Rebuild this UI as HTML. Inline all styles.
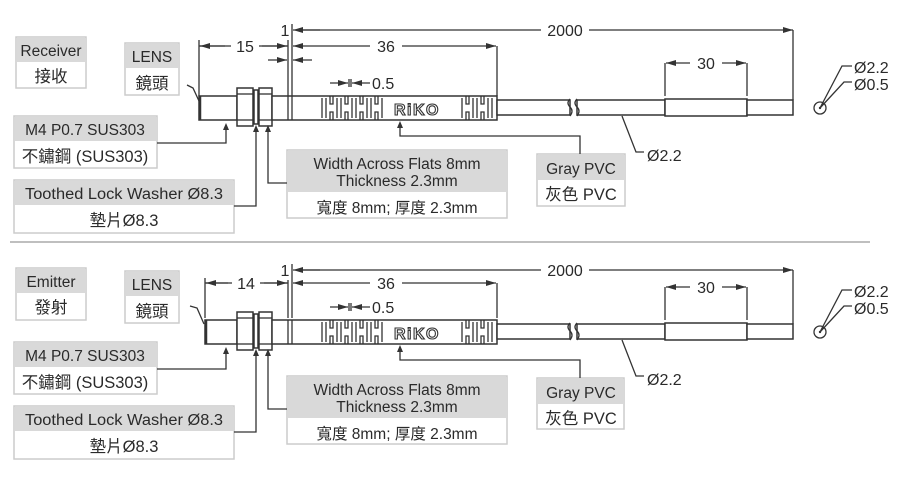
<!DOCTYPE html>
<html><head><meta charset="utf-8"><style>
html,body{margin:0;padding:0;background:#fff;}
svg{display:block;}
text{font-family:"Liberation Sans","Noto Sans CJK TC",sans-serif;fill:#2a2a2a;}
.l{stroke:#333;stroke-width:1.3;fill:none;}
.b{stroke:#333;stroke-width:1.5;fill:#fff;}
.hd{fill:#d9d9d9;}
.bx{fill:#fff;stroke:#ccc;stroke-width:1.5;}
.d{font-size:16px;}
.t{font-size:15.5px;}
.c{font-size:16.5px;}
</style></head><body>
<svg width="900" height="491" viewBox="0 0 900 491" xmlns="http://www.w3.org/2000/svg">
<defs>
<marker id="a" viewBox="0 0 10 6" refX="10" refY="3" markerWidth="10" markerHeight="6" orient="auto" markerUnits="userSpaceOnUse"><path d="M0,0 L10,3 L0,6 z" fill="#333"/></marker>
</defs>

<!-- ================= TOP ================= -->
<g>
<line class="l" x1="300" y1="30" x2="793" y2="30" marker-end="url(#a)"/>
<line class="l" x1="320" y1="30" x2="293" y2="30" marker-end="url(#a)"/>
<rect x="541" y="21" width="48" height="16" fill="#fff"/>
<text x="565" y="36" class="d" text-anchor="middle">2000</text>
<text x="285" y="36" class="d" text-anchor="middle">1</text>
<line class="l" x1="793" y1="30" x2="793" y2="100"/>
<line class="l" x1="292" y1="24" x2="292" y2="96"/>
<line class="l" x1="288" y1="40" x2="288" y2="96"/>
<line class="l" x1="320" y1="46" x2="293" y2="46" marker-end="url(#a)"/>
<line class="l" x1="470" y1="46" x2="496" y2="46" marker-end="url(#a)"/>
<line class="l" x1="320" y1="46" x2="470" y2="46"/>
<rect x="370" y="37" width="32" height="16" fill="#fff"/>
<text x="386" y="52" class="d" text-anchor="middle">36</text>
<line class="l" x1="497" y1="46" x2="497" y2="96"/>
<line class="l" x1="199" y1="40" x2="199" y2="96"/>
<line class="l" x1="199" y1="46" x2="288" y2="46"/>
<line class="l" x1="225" y1="46" x2="200" y2="46" marker-end="url(#a)"/>
<line class="l" x1="262" y1="46" x2="287" y2="46" marker-end="url(#a)"/>
<rect x="231" y="37" width="28" height="16" fill="#fff"/>
<text x="245" y="52" class="d" text-anchor="middle">15</text>
<line class="l" x1="268" y1="60" x2="287" y2="60" marker-end="url(#a)"/>
<line class="l" x1="312" y1="60" x2="293" y2="60" marker-end="url(#a)"/>
</g>
<g>
<line class="l" x1="330" y1="83" x2="348" y2="83" marker-end="url(#a)"/>
<line class="l" x1="370" y1="83" x2="352" y2="83" marker-end="url(#a)"/>
<line class="l" x1="349" y1="79" x2="349" y2="87"/><line class="l" x1="351" y1="79" x2="351" y2="87"/>
<text x="372" y="89" class="d">0.5</text>
<rect class="b" x="199" y="96" width="38" height="24"/>
<line x1="200" y1="96" x2="200" y2="120" stroke="#333" stroke-width="2.5"/>
<rect class="b" x="237" y="88" width="16" height="38"/>
<line class="l" x1="237" y1="94" x2="253" y2="94"/><line class="l" x1="237" y1="120" x2="253" y2="120"/>
<rect class="b" x="254" y="90" width="4" height="34"/>
<rect class="b" x="259" y="88" width="13" height="38"/>
<line class="l" x1="259" y1="94" x2="272" y2="94"/><line class="l" x1="259" y1="120" x2="272" y2="120"/>
<rect class="b" x="272" y="96" width="225" height="24"/>
<line class="l" x1="288" y1="96" x2="288" y2="120"/><line class="l" x1="292" y1="96" x2="292" y2="120"/>
<g class="l">
<path d="M322,98 v20 M326,98 v20 M330,96 v8 h3 v-8 M330,120 v-8 h3 v8 M337,98 v20 M341,98 v20 M345,96 v8 h3 v-8 M345,120 v-8 h3 v8 M352,98 v20 M356,98 v20 M360,96 v8 h3 v-8 M360,120 v-8 h3 v8 M367,98 v20 M371,98 v20 M375,96 v8 h3 v-8 M375,120 v-8 h3 v8 M382,98 v20"/>
<path d="M462,98 v20 M466,96 v8 h3 v-8 M466,120 v-8 h3 v8 M473,98 v20 M477,98 v20 M481,96 v8 h3 v-8 M481,120 v-8 h3 v8 M488,98 v20 M492,98 v20"/>
</g>
<text x="394" y="115" font-size="16" font-weight="bold" letter-spacing="1.5" style="fill:#fff;stroke:#333;stroke-width:1.1">RiKO</text>
<rect class="b" x="497" y="100" width="73" height="15"/>
<rect class="b" x="577" y="100" width="88" height="15"/>
<rect x="571" y="99" width="5" height="18" fill="#fff"/>
<path d="M570,99 q-4,4 0,8 q4,4 0,9 M577,99 q-4,4 0,8 q4,4 0,9" class="l"/>
<rect class="b" x="665" y="99" width="82" height="17"/>
<rect class="b" x="747" y="100" width="46" height="15"/>
<line class="l" x1="665" y1="63" x2="665" y2="96"/><line class="l" x1="747" y1="63" x2="747" y2="96"/>
<line class="l" x1="690" y1="63" x2="666" y2="63" marker-end="url(#a)"/>
<line class="l" x1="722" y1="63" x2="746" y2="63" marker-end="url(#a)"/>
<text x="706" y="69" class="d" text-anchor="middle">30</text>
<circle cx="820" cy="108" r="6" class="l"/><circle cx="820" cy="108" r="1.2" fill="#333"/>
<path class="l" d="M820,108 L842,66 H852 M820,108 L844,82 H852"/>
<text x="854" y="73" class="d">Ø2.2</text>
<text x="854" y="90" class="d">Ø0.5</text>
<path class="l" d="M622,116 L636,152 H644"/>
<text x="647" y="161" class="d">Ø2.2</text>
<path class="l" d="M187,85 L193,88 L199,101"/>
</g>
<g>
<rect class="bx" x="16" y="37" width="70" height="51"/><rect class="hd" x="17" y="38" width="68" height="24"/>
<text x="51" y="56" class="t" text-anchor="middle">Receiver</text>
<text x="51" y="82" class="c" text-anchor="middle">接收</text>
<rect class="bx" x="125" y="43" width="54" height="52"/><rect class="hd" x="126" y="44" width="52" height="24"/>
<text x="152" y="62" class="t" text-anchor="middle">LENS</text>
<text x="152" y="89" class="c" text-anchor="middle">鏡頭</text>
<rect class="bx" x="14" y="116" width="143" height="52"/><rect class="hd" x="15" y="117" width="141" height="24"/>
<text x="85" y="135" class="t" text-anchor="middle">M4 P0.7 SUS303</text>
<text x="85" y="162" class="c" text-anchor="middle">不鏽鋼 (SUS303)</text>
<path class="l" d="M157,143 H226 V126"/><path d="M223,130 L226,123 L229,130z" fill="#333"/>
<rect class="bx" x="14" y="180" width="220" height="53"/><rect class="hd" x="15" y="181" width="218" height="24"/>
<text x="124" y="199" class="t" text-anchor="middle" textLength="198" lengthAdjust="spacingAndGlyphs">Toothed Lock Washer Ø8.3</text>
<text x="124" y="226" class="c" text-anchor="middle">墊片Ø8.3</text>
<path class="l" d="M234,206 H256 V128"/><path d="M253,132 L256,125 L259,132z" fill="#333"/>
<rect class="bx" x="287" y="150" width="220" height="68"/><rect class="hd" x="288" y="151" width="218" height="41"/>
<text x="397" y="169" class="t" text-anchor="middle">Width Across Flats 8mm</text>
<text x="397" y="186" class="t" text-anchor="middle">Thickness 2.3mm</text>
<text x="397" y="213" class="t" text-anchor="middle">寬度 8mm; 厚度 2.3mm</text>
<path class="l" d="M287,183 H268 V128"/><path d="M265,132 L268,125 L271,132z" fill="#333"/>
<rect class="bx" x="537" y="154" width="88" height="52"/><rect class="hd" x="538" y="155" width="86" height="25"/>
<text x="581" y="174" class="t" text-anchor="middle">Gray PVC</text>
<text x="581" y="200" class="c" text-anchor="middle">灰色 PVC</text>
<path class="l" d="M580,154 V136 H400 V124"/><path d="M397,128 L400,121 L403,128z" fill="#333"/>
</g>

<line x1="10" y1="242" x2="870" y2="242" stroke="#aaa" stroke-width="1.5"/>

<!-- ================= BOTTOM ================= -->
<g transform="translate(0,240)">
<line class="l" x1="300" y1="30" x2="793" y2="30" marker-end="url(#a)"/>
<line class="l" x1="320" y1="30" x2="293" y2="30" marker-end="url(#a)"/>
<rect x="541" y="21" width="48" height="16" fill="#fff"/>
<text x="565" y="36" class="d" text-anchor="middle">2000</text>
<text x="285" y="36" class="d" text-anchor="middle">1</text>
<line class="l" x1="793" y1="30" x2="793" y2="84"/>
<line class="l" x1="292" y1="24" x2="292" y2="78"/>
<line class="l" x1="288" y1="40" x2="288" y2="78"/>
<line class="l" x1="320" y1="43" x2="293" y2="43" marker-end="url(#a)"/>
<line class="l" x1="470" y1="43" x2="496" y2="43" marker-end="url(#a)"/>
<line class="l" x1="320" y1="43" x2="470" y2="43"/>
<rect x="370" y="34" width="32" height="16" fill="#fff"/>
<text x="386" y="49" class="d" text-anchor="middle">36</text>
<line class="l" x1="497" y1="43" x2="497" y2="78"/>
<line class="l" x1="205" y1="38" x2="205" y2="78"/>
<line class="l" x1="205" y1="43" x2="288" y2="43"/>
<line class="l" x1="228" y1="43" x2="206" y2="43" marker-end="url(#a)"/>
<line class="l" x1="264" y1="43" x2="287" y2="43" marker-end="url(#a)"/>
<rect x="232" y="34" width="28" height="16" fill="#fff"/>
<text x="246" y="49" class="d" text-anchor="middle">14</text>
</g>
<g transform="translate(0,224)">
<line class="l" x1="330" y1="83" x2="348" y2="83" marker-end="url(#a)"/>
<line class="l" x1="370" y1="83" x2="352" y2="83" marker-end="url(#a)"/>
<line class="l" x1="349" y1="79" x2="349" y2="87"/><line class="l" x1="351" y1="79" x2="351" y2="87"/>
<text x="372" y="89" class="d">0.5</text>
<rect class="b" x="205" y="96" width="32" height="24"/>
<line x1="206" y1="96" x2="206" y2="120" stroke="#333" stroke-width="2.5"/>
<rect class="b" x="237" y="88" width="16" height="38"/>
<line class="l" x1="237" y1="94" x2="253" y2="94"/><line class="l" x1="237" y1="120" x2="253" y2="120"/>
<rect class="b" x="254" y="90" width="4" height="34"/>
<rect class="b" x="259" y="88" width="13" height="38"/>
<line class="l" x1="259" y1="94" x2="272" y2="94"/><line class="l" x1="259" y1="120" x2="272" y2="120"/>
<rect class="b" x="272" y="96" width="225" height="24"/>
<line class="l" x1="288" y1="96" x2="288" y2="120"/><line class="l" x1="292" y1="96" x2="292" y2="120"/>
<g class="l">
<path d="M322,98 v20 M326,98 v20 M330,96 v8 h3 v-8 M330,120 v-8 h3 v8 M337,98 v20 M341,98 v20 M345,96 v8 h3 v-8 M345,120 v-8 h3 v8 M352,98 v20 M356,98 v20 M360,96 v8 h3 v-8 M360,120 v-8 h3 v8 M367,98 v20 M371,98 v20 M375,96 v8 h3 v-8 M375,120 v-8 h3 v8 M382,98 v20"/>
<path d="M462,98 v20 M466,96 v8 h3 v-8 M466,120 v-8 h3 v8 M473,98 v20 M477,98 v20 M481,96 v8 h3 v-8 M481,120 v-8 h3 v8 M488,98 v20 M492,98 v20"/>
</g>
<text x="394" y="115" font-size="16" font-weight="bold" letter-spacing="1.5" style="fill:#fff;stroke:#333;stroke-width:1.1">RiKO</text>
<rect class="b" x="497" y="100" width="73" height="15"/>
<rect class="b" x="577" y="100" width="88" height="15"/>
<rect x="571" y="99" width="5" height="18" fill="#fff"/>
<path d="M570,99 q-4,4 0,8 q4,4 0,9 M577,99 q-4,4 0,8 q4,4 0,9" class="l"/>
<rect class="b" x="665" y="99" width="82" height="17"/>
<rect class="b" x="747" y="100" width="46" height="15"/>
<line class="l" x1="665" y1="63" x2="665" y2="96"/><line class="l" x1="747" y1="63" x2="747" y2="96"/>
<line class="l" x1="690" y1="63" x2="666" y2="63" marker-end="url(#a)"/>
<line class="l" x1="722" y1="63" x2="746" y2="63" marker-end="url(#a)"/>
<text x="706" y="69" class="d" text-anchor="middle">30</text>
<circle cx="820" cy="108" r="6" class="l"/><circle cx="820" cy="108" r="1.2" fill="#333"/>
<path class="l" d="M820,108 L842,66 H852 M820,108 L844,82 H852"/>
<text x="854" y="73" class="d">Ø2.2</text>
<text x="854" y="90" class="d">Ø0.5</text>
<path class="l" d="M622,116 L636,152 H644"/>
<text x="647" y="161" class="d">Ø2.2</text>
<path class="l" d="M190,82 L197,84 L204,100"/>
</g>
<g transform="translate(0,226)">
<rect class="bx" x="16" y="42" width="70" height="52"/><rect class="hd" x="17" y="43" width="68" height="24"/>
<text x="51" y="61" class="t" text-anchor="middle">Emitter</text>
<text x="51" y="87" class="c" text-anchor="middle">發射</text>
<rect class="bx" x="125" y="45" width="54" height="52"/><rect class="hd" x="126" y="46" width="52" height="24"/>
<text x="152" y="64" class="t" text-anchor="middle">LENS</text>
<text x="152" y="91" class="c" text-anchor="middle">鏡頭</text>
<rect class="bx" x="14" y="116" width="143" height="52"/><rect class="hd" x="15" y="117" width="141" height="24"/>
<text x="85" y="135" class="t" text-anchor="middle">M4 P0.7 SUS303</text>
<text x="85" y="162" class="c" text-anchor="middle">不鏽鋼 (SUS303)</text>
<path class="l" d="M157,143 H226 V124"/><path d="M223,128 L226,121 L229,128z" fill="#333"/>
<rect class="bx" x="14" y="180" width="220" height="53"/><rect class="hd" x="15" y="181" width="218" height="24"/>
<text x="124" y="199" class="t" text-anchor="middle" textLength="198" lengthAdjust="spacingAndGlyphs">Toothed Lock Washer Ø8.3</text>
<text x="124" y="226" class="c" text-anchor="middle">墊片Ø8.3</text>
<path class="l" d="M234,206 H256 V126"/><path d="M253,130 L256,123 L259,130z" fill="#333"/>
<rect class="bx" x="287" y="150" width="220" height="68"/><rect class="hd" x="288" y="151" width="218" height="41"/>
<text x="397" y="169" class="t" text-anchor="middle">Width Across Flats 8mm</text>
<text x="397" y="186" class="t" text-anchor="middle">Thickness 2.3mm</text>
<text x="397" y="213" class="t" text-anchor="middle">寬度 8mm; 厚度 2.3mm</text>
<path class="l" d="M287,183 H268 V126"/><path d="M265,130 L268,123 L271,130z" fill="#333"/>
<rect class="bx" x="537" y="152" width="87" height="51"/><rect class="hd" x="538" y="153" width="85" height="25"/>
<text x="581" y="172" class="t" text-anchor="middle">Gray PVC</text>
<text x="581" y="198" class="c" text-anchor="middle">灰色 PVC</text>
<path class="l" d="M580,152 V134 H400 V122"/><path d="M397,126 L400,119 L403,126z" fill="#333"/>
</g>
</svg>
</body></html>
